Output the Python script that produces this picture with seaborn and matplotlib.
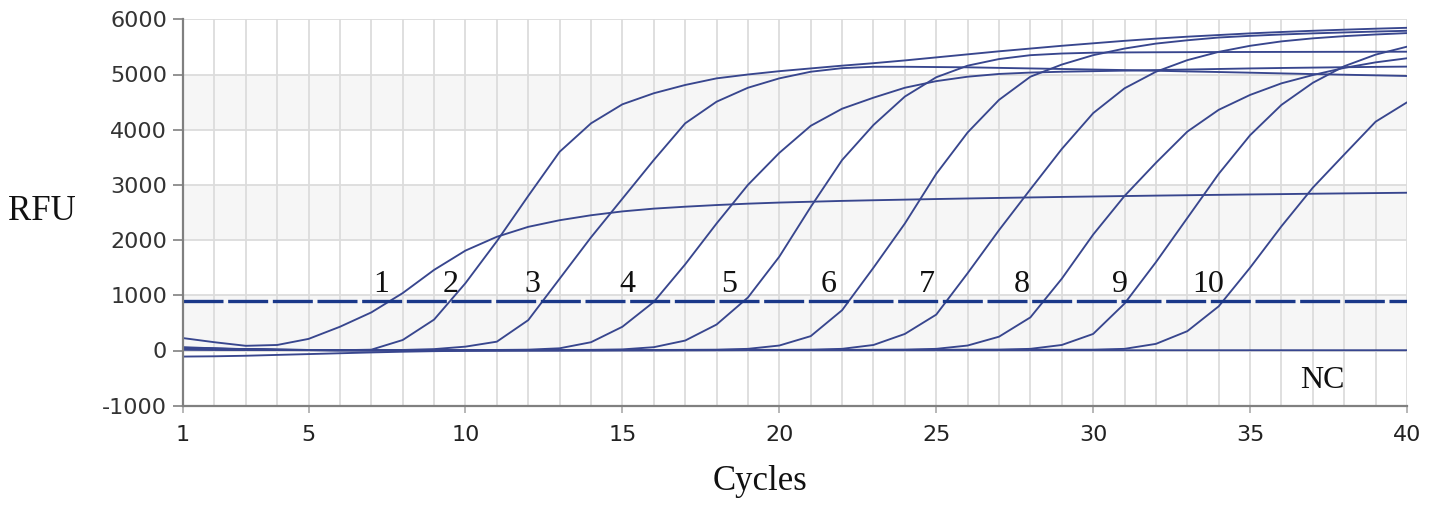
import matplotlib
matplotlib.use("Agg")
import matplotlib.pyplot as plt
import seaborn as sns
import pandas as pd

# ---------------- data ----------------
CYCLES = list(range(1, 41))
THRESHOLD = 900

curve_1 = [225, 150, 85, 100, 210, 430, 690, 1040, 1460, 1810,
           2060, 2240, 2360, 2450, 2520, 2570, 2605, 2635, 2660, 2680,
           2695, 2710, 2722, 2733, 2744, 2754, 2764, 2773, 2782, 2790,
           2798, 2806, 2813, 2820, 2827, 2833, 2840, 2846, 2852, 2858]
curve_2 = [60, 40, 25, 15, 10, 5, 15, 190, 560, 1220,
           1980, 2800, 3600, 4115, 4460, 4660, 4810, 4930, 5000, 5060,
           5110, 5160, 5205, 5255, 5310, 5365, 5420, 5470, 5520, 5565,
           5610, 5650, 5685, 5715, 5745, 5770, 5792, 5812, 5830, 5846]
curve_3 = [50, 35, 20, 12, 8, 5, 5, 10, 25, 70,
           160, 550, 1300, 2050, 2750, 3450, 4115, 4507, 4760, 4930,
           5050, 5115, 5140, 5140, 5135, 5130, 5120, 5110, 5100, 5090,
           5080, 5068, 5056, 5045, 5033, 5020, 5008, 4996, 4985, 4973]
curve_4 = [40, 30, 20, 12, 8, 5, 5, 5, 5, 8,
           10, 15, 40, 150, 430, 880, 1560, 2300, 3000, 3580,
           4070, 4380, 4580, 4760, 4880, 4960, 5010, 5035, 5050, 5060,
           5070, 5080, 5090, 5100, 5110, 5118, 5125, 5132, 5138, 5143]
curve_5 = [45, 35, 25, 15, 10, 8, 5, 5, 5, 5,
           5, 8, 10, 12, 20, 60, 180, 470, 960, 1700,
           2600, 3450, 4085, 4600, 4950, 5160, 5280, 5350, 5380, 5395,
           5400, 5403, 5405, 5407, 5408, 5409, 5410, 5411, 5412, 5413]
curve_6 = [35, 28, 20, 14, 10, 8, 6, 5, 5, 5,
           5, 5, 6, 8, 8, 10, 12, 15, 30, 90,
           260, 730, 1500, 2300, 3200, 3950, 4540, 4960, 5180, 5350,
           5470, 5560, 5620, 5670, 5700, 5725, 5745, 5762, 5778, 5792]
curve_7 = [30, 25, 18, 12, 9, 7, 5, 5, 5, 5,
           5, 5, 5, 6, 8, 8, 10, 10, 12, 12,
           15, 30, 100, 300, 650, 1400, 2180, 2920, 3650, 4300,
           4750, 5050, 5260, 5410, 5520, 5600, 5655, 5695, 5725, 5750]
curve_8 = [25, 20, 15, 10, 8, 6, 5, 5, 5, 5,
           5, 5, 5, 5, 6, 6, 8, 8, 10, 10,
           10, 12, 12, 15, 30, 90, 250, 600, 1300, 2100,
           2800, 3400, 3965, 4360, 4630, 4840, 4990, 5120, 5220, 5294]
curve_9 = [20, 16, 12, 9, 7, 5, 5, 5, 5, 5,
           5, 5, 5, 5, 5, 6, 6, 8, 8, 10,
           10, 10, 12, 12, 12, 14, 15, 30, 100, 300,
           850, 1600, 2400, 3200, 3900, 4450, 4850, 5150, 5360, 5504]
curve_10 = [15, 12, 10, 8, 6, 5, 5, 5, 5, 5,
            5, 5, 5, 5, 5, 5, 6, 6, 8, 8,
            8, 10, 10, 10, 12, 12, 12, 14, 14, 15,
            30, 120, 350, 800, 1500, 2250, 2950, 3550, 4145, 4496]
curve_nc = [-110, -105, -95, -80, -65, -50, -35, -22, -12, -5,
            0, 2, 3, 4, 5, 5, 5, 5, 5, 5,
            5, 5, 5, 5, 5, 5, 5, 5, 5, 5,
            5, 5, 5, 5, 5, 5, 5, 5, 5, 5]

CURVE_NAMES = ["1", "2", "3", "4", "5", "6", "7", "8", "9", "10", "NC"]
CURVES = [curve_1, curve_2, curve_3, curve_4, curve_5, curve_6,
          curve_7, curve_8, curve_9, curve_10, curve_nc]

X_TICKS = [1, 5, 10, 15, 20, 25, 30, 35, 40]
Y_TICKS = [-1000, 0, 1000, 2000, 3000, 4000, 5000, 6000]

rows = []
for name, vals in zip(CURVE_NAMES, CURVES):
    for c, v in zip(CYCLES, vals):
        rows.append({"curve": name, "cycle": c, "rfu": v})
df = pd.DataFrame(rows)

# ---------------- style ----------------
sns.set_theme(style="white")
plt.rcParams["font.family"] = ["DejaVu Sans"]
plt.rcParams["axes.unicode_minus"] = False

LINE_COLOR = "#38468e"
THRESH_COLOR = "#1a3889"
GRID_COLOR = "#dcdcdc"
BAND_COLOR = "#f6f6f6"
SPINE_COLOR = "#808080"
SERIF = ["Liberation Serif", "DejaVu Serif"]

W, H = 1430, 505
fig = plt.figure(figsize=(W / 100, H / 100), dpi=100)
ax = fig.add_axes([183 / W, 1 - 405.7 / H, (1407.3 - 183.3) / W, (405.7 - 19.3) / H])

# alternating bands
for lo in (0, 2000, 4000):
    ax.axhspan(lo, lo + 1000, color=BAND_COLOR, zorder=0, lw=0)

sns.lineplot(data=df, x="cycle", y="rfu", hue="curve",
             palette=[LINE_COLOR] * len(CURVE_NAMES), legend=False,
             linewidth=1.35, estimator=None, sort=False, ax=ax, zorder=3)

ax.axhline(THRESHOLD, color=THRESH_COLOR, lw=2.4, dashes=(12, 1.4), zorder=4)

ax.set_xlim(1, 40)
ax.set_ylim(-1000, 6000)
ax.set_xticks(X_TICKS)
ax.set_xticks(CYCLES, minor=True)
ax.set_yticks(Y_TICKS)
ax.grid(True, which="both", axis="x", color=GRID_COLOR, lw=1.3, zorder=1)
ax.grid(True, which="major", axis="y", color=GRID_COLOR, lw=1.3, zorder=1)
ax.set_axisbelow(True)

for s in ("top", "right"):
    ax.spines[s].set_visible(False)
for s in ("left", "bottom"):
    ax.spines[s].set_color(SPINE_COLOR)
    ax.spines[s].set_linewidth(1.6)
    ax.spines[s].set_zorder(5)

ax.tick_params(axis="y", which="major", length=7.5, width=1.2, color=SPINE_COLOR,
               labelsize=16, labelcolor="#333333", pad=4, left=True)
ax.tick_params(axis="x", which="major", length=5, width=1.2, color="#aaaaaa",
               labelsize=16, labelcolor="#222222", pad=9, bottom=True)
ax.tick_params(axis="x", which="minor", length=0)
ax.set_xlabel("")
ax.set_ylabel("")

# curve number labels
LABEL_X = [7.30, 9.53, 12.12, 15.17, 18.39, 21.58, 24.70, 27.73, 30.85, 33.65]
for name, lx in zip(CURVE_NAMES[:10], LABEL_X):
    ax.text(lx, 1200, name, ha="center", va="center", fontsize=23,
            family=SERIF, color="#111111", zorder=6)
ax.text(37.3, -540, "NC", ha="center", va="center", fontsize=23,
        family=SERIF, color="#111111", zorder=6)

fig.text(42 / W, 1 - 212 / H, "RFU", ha="center", va="center",
         fontsize=25, family=SERIF, color="#111111")
fig.text(760 / W, 1 - 482 / H, "Cycles", ha="center", va="center",
         fontsize=25, family=SERIF, color="#111111")

fig.savefig("out.png", dpi=100, facecolor="white")
